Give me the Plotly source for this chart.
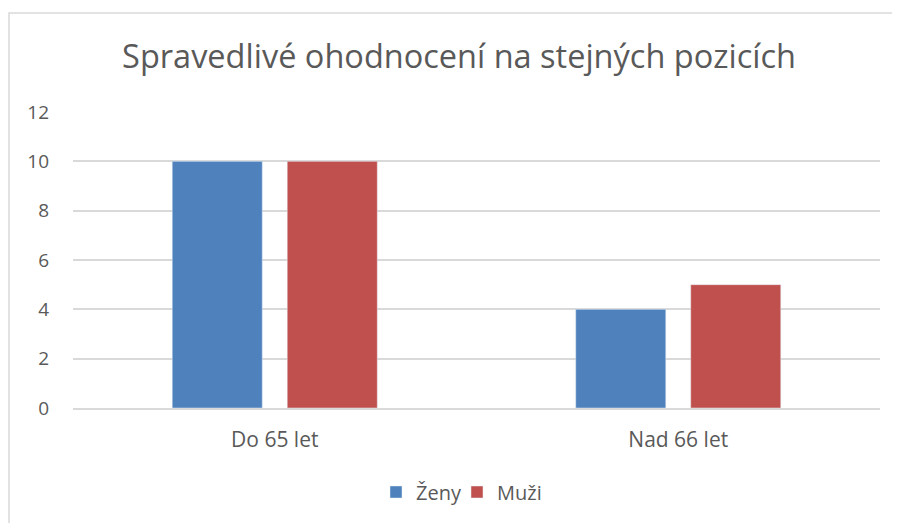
import plotly.graph_objects as go

categories = ["Do 65 let", "Nad 66 let"]
zeny = [10, 4]
muzi = [10, 5]
series_names = ["Ženy", "Muži"]
title_text = "Spravedlivé ohodnocení na stejných pozicích"

FONT = "Open Sans"
GRAY = "#595959"
GRID = "#D9D9D9"

fig = go.Figure()
fig.add_trace(go.Bar(x=categories, y=zeny, name=series_names[0], marker_color="#4F81BD",
                     legend="legend"))
fig.add_trace(go.Bar(x=categories, y=muzi, name=series_names[1], marker_color="#C0504D",
                     legend="legend2"))

# the page body has an 8px margin, so work in figure coords = page coords - 8
OFF = 8
W, H = 900 - OFF, 523 - OFF
ml, mt = 73 - OFF, 112 - OFF
pw, ph = 807, 296
mr = W - ml - pw
mb = H - mt - ph

leg_common = dict(orientation="h", xref="paper", xanchor="left",
                  y=-(492 - 408) / ph, yanchor="middle",
                  font=dict(family=FONT, size=20, color=GRAY),
                  itemwidth=30, bgcolor="rgba(0,0,0,0)")

fig.update_layout(
    width=W, height=H,
    margin=dict(l=ml, r=mr, t=mt, b=mb, autoexpand=False),
    paper_bgcolor="white", plot_bgcolor="white",
    barmode="group", bargap=0.43, bargroupgap=0.217,
    title=dict(text=title_text, x=(459 - OFF) / W, xref="container", xanchor="center",
               y=1 - (57 - OFF) / H, yref="container", yanchor="middle",
               font=dict(family=FONT, size=32.5, color=GRAY)),
    font=dict(family=FONT, color=GRAY, size=20),
    showlegend=True,
    legend=dict(x=(376 - 73) / pw, **leg_common),
    legend2=dict(x=(457 - 73) / pw, **leg_common),
    yaxis=dict(range=[0, 12], dtick=2, showgrid=True, gridcolor=GRID, gridwidth=1.5,
               zeroline=False, showline=False, ticks="", ticklen=0,
               tickfont=dict(family=FONT, size=19, color=GRAY), ticklabelstandoff=23),
    xaxis=dict(showgrid=False, showline=True, linecolor=GRID, linewidth=1.5,
               ticks="", tickfont=dict(family=FONT, size=21, color=GRAY), ticklabelstandoff=12),
)

# chart-area border (top and left edges visible)
fig.add_shape(type="rect", xref="paper", yref="paper",
              x0=(9 - 73) / pw, x1=(W + 20 - ml) / pw,
              y0=-(H + 20 - (mt + ph)) / ph, y1=(408 - 13) / ph,
              line=dict(color=GRID, width=1.5), fillcolor="rgba(0,0,0,0)", layer="below")

fig.write_html("out.html")
